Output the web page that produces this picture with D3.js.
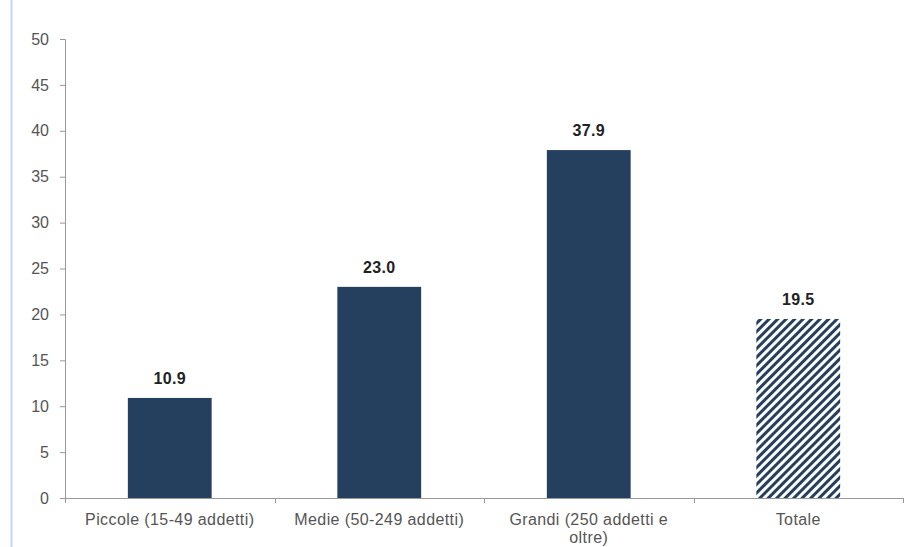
<!DOCTYPE html>
<html><head><meta charset="utf-8">
<script src="https://cdn.jsdelivr.net/npm/d3@7"></script>
<style>body{margin:0;background:#fff;} svg{display:block;font-family:"Liberation Sans",Arial,sans-serif;}</style>
</head><body>
<svg id="c" width="916" height="547"></svg>
<script>
const categories = ["Piccole (15-49 addetti)", "Medie (50-249 addetti)", "Grandi (250 addetti e oltre)", "Totale"];
const values = [10.9, 23.0, 37.9, 19.5];
const hatched = [false, false, false, true];
const yTicks = [0, 5, 10, 15, 20, 25, 30, 35, 40, 45, 50];

(function(){
const svg = d3.select("#c");
const mLeft = 65, mRight = 903, mTop = 39, mBottom = 498;
const navy = "#253f5e";

const defs = svg.append("defs");
const pat = defs.append("pattern").attr("id","hatch").attr("patternUnits","userSpaceOnUse")
  .attr("width",6).attr("height",6).attr("patternTransform","rotate(45)");
pat.append("rect").attr("width",6).attr("height",6).attr("fill","#fff");
pat.append("rect").attr("x",0).attr("y",0).attr("width",3).attr("height",6).attr("fill",navy);

// left blue rule
svg.append("line").attr("x1",11.5).attr("x2",11.5).attr("y1",0).attr("y2",547)
  .attr("stroke","#c2d6f4").attr("stroke-width",2);

const x = d3.scaleBand().domain(categories).range([mLeft, mRight]).paddingInner(0.6).paddingOuter(0.3);
const y = d3.scaleLinear().domain([0, 50]).range([mBottom, mTop]);

const yAxis = svg.append("g").attr("transform",`translate(${mLeft},0)`)
  .call(d3.axisLeft(y).tickValues(yTicks).tickSize(5).tickPadding(11));
yAxis.select(".domain").attr("stroke","#999");
yAxis.selectAll(".tick line").attr("stroke","#999");
yAxis.selectAll(".tick text").attr("fill","#555").attr("font-size",16)
  .style("font-family","Liberation Sans, Arial, sans-serif");

// x axis
const xg = svg.append("g");
xg.append("line").attr("x1",mLeft).attr("x2",mRight).attr("y1",mBottom+0.5).attr("y2",mBottom+0.5).attr("stroke","#999");
const step = x.step();
const bounds = categories.map((c)=> x(c) - x.paddingInner()*step/2).concat([mRight]);
xg.selectAll(".xt").data(bounds).enter().append("line")
  .attr("x1",d=>Math.round(d)+0.5).attr("x2",d=>Math.round(d)+0.5)
  .attr("y1",mBottom).attr("y2",mBottom+5).attr("stroke","#999");

// bars
svg.selectAll(".bar").data(categories).enter().append("rect")
  .attr("x",d=>x(d)).attr("width",x.bandwidth())
  .attr("y",(d,i)=>y(values[i])).attr("height",(d,i)=>y(0)-y(values[i]))
  .attr("fill",(d,i)=>hatched[i] ? "url(#hatch)" : navy);

// value labels
svg.selectAll(".vl").data(categories).enter().append("text")
  .attr("x",d=>x(d)+x.bandwidth()/2).attr("y",(d,i)=>y(values[i])-14)
  .attr("text-anchor","middle").attr("font-size",16).attr("font-weight","bold").attr("fill","#222")
  .attr("letter-spacing",0.3)
  .text((d,i)=>values[i].toFixed(1));

// category labels with wrapping
const labelLines = [["Piccole (15-49 addetti)"],["Medie (50-249 addetti)"],["Grandi (250 addetti e","oltre)"],["Totale"]];
svg.selectAll(".cl").data(categories).enter().append("text")
  .attr("x",d=>x(d)+x.bandwidth()/2).attr("y",525)
  .attr("text-anchor","middle").attr("font-size",16).attr("fill","#555")
  .attr("letter-spacing",0.4)
  .each(function(d,i){
    const t = d3.select(this);
    labelLines[i].forEach((l,j)=>{
      t.append("tspan").attr("x",x(d)+x.bandwidth()/2).attr("dy", j===0?0:18).text(l);
    });
  });
})();
</script>
</body></html>
